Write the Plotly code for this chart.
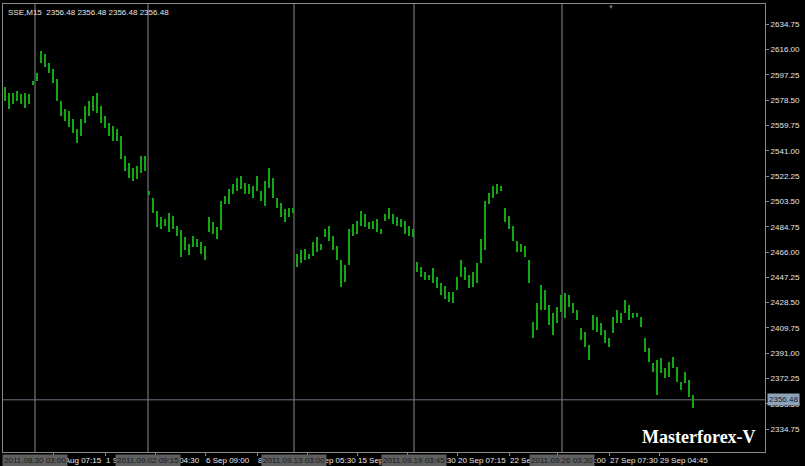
import plotly.graph_objects as go

# ---- data (SSE, M15) ----
bar_high = [
    2588.4, 2584.0, 2584.0, 2585.5, 2583.2, 2584.0, 2583.2, 2592.8,
    2598.8, 2615.0, 2612.8, 2606.2, 2601.7, 2594.3, 2578.1, 2572.1, 2570.7, 2564.8,
    2557.4, 2564.8, 2574.4, 2578.1, 2581.8, 2584.0, 2574.4, 2567.0, 2561.8, 2559.6,
    2557.4, 2552.2, 2537.4, 2532.2, 2528.5, 2530.0, 2537.4, 2537.4,
    2511.5, 2506.3, 2496.7, 2491.6, 2490.8, 2495.2, 2493.0, 2485.6, 2482.0, 2476.8,
    2472.3, 2478.2, 2476.0, 2473.1, 2470.8, 2491.6, 2487.9, 2484.2, 2504.1, 2507.8,
    2513.0, 2516.7, 2521.1, 2522.6, 2517.4, 2516.7, 2515.2, 2522.6, 2511.5, 2518.9,
    2528.5, 2521.1, 2506.3, 2502.6, 2498.2, 2498.9, 2498.9,
    2464.9, 2467.2, 2468.6, 2464.9, 2473.1, 2476.8, 2472.3, 2483.4, 2485.6, 2478.2,
    2470.8, 2459.8, 2456.1, 2483.4, 2487.1, 2489.3, 2496.7, 2494.5, 2487.9, 2489.3,
    2490.8, 2483.4, 2494.5, 2498.9, 2494.5, 2491.6, 2490.8, 2489.3, 2485.6, 2483.4,
    2458.3, 2454.6, 2450.9, 2448.7, 2453.8, 2447.2, 2442.8, 2440.5, 2436.1, 2436.1,
    2447.2, 2459.8, 2454.6, 2448.7, 2450.9, 2457.5, 2476.0, 2504.1, 2510.0, 2515.2,
    2516.7, 2515.2, 2498.9, 2493.0, 2485.6, 2474.5, 2472.3, 2470.8, 2459.8, 2413.9,
    2428.0, 2441.3, 2437.6, 2426.5, 2420.6, 2425.0, 2433.9,
    2435.4, 2433.9, 2428.0, 2422.8, 2409.5, 2406.5, 2396.9, 2419.1, 2417.6, 2413.2,
    2408.0, 2402.1, 2417.6, 2422.8, 2420.6, 2430.2, 2426.5, 2420.6, 2420.6, 2417.6,
    2402.1, 2394.7, 2383.6, 2385.8, 2387.3, 2379.9, 2384.3, 2388.0, 2380.6, 2369.6,
    2376.9, 2371.0, 2359.9,
]
bar_low = [
    2578.1, 2572.1, 2575.8, 2578.1, 2575.8, 2572.9, 2575.8, 2589.9,
    2592.8, 2606.2, 2603.2, 2598.8, 2591.4, 2578.1, 2567.0, 2563.3, 2558.8, 2554.4,
    2547.0, 2552.2, 2561.8, 2567.0, 2570.7, 2569.2, 2561.8, 2558.1, 2552.2, 2548.5,
    2548.5, 2535.2, 2526.3, 2521.1, 2518.9, 2520.4, 2524.8, 2526.3,
    2508.6, 2495.2, 2484.2, 2483.4, 2485.6, 2480.5, 2483.4, 2478.2, 2462.0, 2467.2,
    2463.5, 2469.4, 2469.4, 2464.9, 2459.8, 2480.5, 2479.7, 2476.0, 2482.0, 2501.9,
    2501.9, 2509.3, 2511.5, 2513.0, 2509.3, 2509.3, 2506.3, 2511.5, 2504.1, 2500.4,
    2513.7, 2506.3, 2498.9, 2491.6, 2487.9, 2491.6, 2495.2,
    2454.6, 2457.5, 2459.8, 2461.2, 2462.7, 2465.7, 2467.2, 2476.8, 2474.5, 2467.2,
    2459.8, 2439.8, 2443.5, 2456.1, 2478.2, 2479.7, 2485.6, 2484.2, 2483.4, 2483.4,
    2480.5, 2479.7, 2489.3, 2490.8, 2487.1, 2485.6, 2484.2, 2479.7, 2478.2, 2476.8,
    2450.9, 2447.2, 2445.0, 2445.0, 2442.8, 2439.1, 2433.9, 2430.9, 2428.7, 2428.0,
    2437.6, 2447.2, 2445.0, 2439.1, 2439.8, 2442.8, 2457.5, 2467.2, 2501.9, 2506.3,
    2509.3, 2511.5, 2487.9, 2483.4, 2474.5, 2465.7, 2465.7, 2462.0, 2442.8, 2402.1,
    2408.0, 2422.8, 2422.8, 2411.7, 2404.3, 2413.2, 2421.3,
    2416.9, 2425.0, 2420.6, 2415.4, 2400.6, 2395.4, 2385.8, 2408.0, 2406.5, 2404.3,
    2398.4, 2395.4, 2405.8, 2413.2, 2413.2, 2420.6, 2415.4, 2416.9, 2417.6, 2410.2,
    2391.7, 2384.3, 2376.9, 2359.9, 2376.2, 2372.5, 2373.2, 2379.9, 2369.6, 2363.6,
    2368.8, 2358.5, 2350.3,
]
bar_index = list(range(len(bar_high)))

last_price = 2356.48
symbol_text = "SSE,M15  2356.48 2356.48 2356.48 2356.48"

y_ticks = [2334.75, 2353.50, 2372.25, 2391.00, 2409.75, 2428.50, 2447.25, 2466.00,
           2484.75, 2503.50, 2522.25, 2541.00, 2559.75, 2578.50, 2597.25, 2616.00, 2634.75]
y_tick_labels = ["%.2f" % v for v in y_ticks]

x_tick_pos = [12, 25, 37.5, 50, 63, 75.5, 88, 100.5, 113, 126, 138, 151, 163.5]
x_tick_labels = ["31 Aug 07:15", "1 Sep 11:45", "5 Sep 04:30", "6 Sep 09:00", "8 Sep 03:45",
                 "13 Sep 05:30", "15 Sep 02:15", "19 Sep 02:30", "20 Sep 07:15", "22 Sep 03:45",
                 "26 Sep 03:00", "27 Sep 07:30", "29 Sep 04:45"]

vline_pos = [7.5, 35.75, 72.25, 102.25, 139.25]
vline_labels = ["2011.08.30 03:00", "2011.09.02 09:15", "2011.09.13 03:00",
                "2011.09.19 03:45", "2011.09.26 03:30"]

watermark = "Masterforex-V"

# ---- styles ----
BAR_COLOR = "#13a813"
FRAME = "#8a8a8a"
TXT = "#e6e6e6"
FONT = "Liberation Sans"

fig = go.Figure()
fig.add_trace(go.Bar(
    x=bar_index,
    y=[h - l for h, l in zip(bar_high, bar_low)],
    base=bar_low,
    width=0.55,
    marker=dict(color=BAR_COLOR, line=dict(width=0)),
    hoverinfo="skip",
))

shapes = []
for v in vline_pos:
    shapes.append(dict(type="line", xref="x", yref="paper", x0=v, x1=v, y0=0, y1=1,
                       line=dict(color=FRAME, width=1), layer="below"))
shapes.append(dict(type="line", xref="paper", yref="y", x0=0, x1=1, y0=last_price, y1=last_price,
                   line=dict(color="#6c7682", width=1), layer="below"))

annotations = []
for v, t in zip(vline_pos, vline_labels):
    annotations.append(dict(x=v, xref="x", y=0, yref="paper", yanchor="top", xanchor="center",
                            yshift=-2, text=t, showarrow=False,
                            font=dict(family=FONT, size=8, color="#1a1a1a"),
                            bgcolor="#5e5e5e", borderpad=1))
annotations.append(dict(x=1, xref="paper", y=last_price, yref="y", xanchor="left", yanchor="middle",
                        xshift=2, text="%.2f" % last_price, showarrow=False,
                        font=dict(family=FONT, size=8, color="#14202c"),
                        bgcolor="#8ea3b8", borderpad=1))
annotations.append(dict(x=0, xref="paper", y=1, yref="paper", xanchor="left", yanchor="top",
                        xshift=3, yshift=-2, text=symbol_text, showarrow=False,
                        font=dict(family=FONT, size=8, color=TXT)))
annotations.append(dict(x=1, xref="paper", y=0, yref="paper", xanchor="right", yanchor="bottom",
                        xshift=-7, yshift=3, text="<b>%s</b>" % watermark, showarrow=False,
                        font=dict(family="Liberation Serif", size=18, color="#ffffff")))
annotations.append(dict(x=151.5, xref="x", y=1, yref="paper", xanchor="center", yanchor="top",
                        yshift=2, text="▼", showarrow=False,
                        font=dict(family=FONT, size=6, color="#777777")))

fig.update_layout(
    width=805, height=466,
    margin=dict(l=3, r=40, t=4, b=14, autoexpand=False),
    paper_bgcolor="#000000", plot_bgcolor="#000000",
    showlegend=False,
    bargap=0,
    shapes=shapes,
    annotations=annotations,
    xaxis=dict(range=[-0.5, 190], showgrid=False, zeroline=False, automargin=False,
               showline=True, mirror=True, linecolor=FRAME, linewidth=1,
               tickmode="array", tickvals=x_tick_pos, ticktext=x_tick_labels,
               tickangle=0, ticks="outside", ticklen=3, tickcolor=FRAME,
               ticklabelposition="outside right",
               tickfont=dict(family=FONT, size=8, color=TXT), fixedrange=True),
    yaxis=dict(range=[2317.8, 2649.8], side="right", showgrid=False, zeroline=False,
               automargin=False,
               showline=True, mirror=True, linecolor=FRAME, linewidth=1,
               tickmode="array", tickvals=y_ticks, ticktext=y_tick_labels,
               ticks="outside", ticklen=3, tickcolor=FRAME,
               tickfont=dict(family=FONT, size=8, color=TXT), fixedrange=True),
)

fig.write_html("out.html", config={"displayModeBar": False},
               post_script="document.body.style.margin='0';document.body.style.background='#000';")
